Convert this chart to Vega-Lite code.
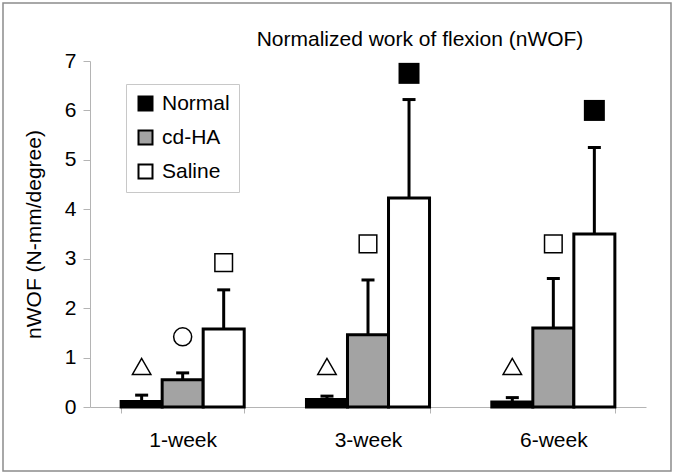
{
  "$schema": "https://vega.github.io/schema/vega-lite/v6.json",
  "width": 556,
  "height": 346,
  "autosize": "none",
  "padding": {"left": 90, "top": 61, "right": 29, "bottom": 69},
  "background": "white",
  "config": {
    "view": {"stroke": null},
    "font": "Liberation Sans",
    "axis": {"labelFont": "Liberation Sans", "titleFont": "Liberation Sans"}
  },
  "title": {
    "text": "Normalized work of flexion (nWOF)",
    "font": "Liberation Sans",
    "fontSize": 21,
    "fontWeight": "normal",
    "color": "black",
    "anchor": "middle",
    "dx": 52,
    "offset": -47
  },
  "datasets": {
    "bars": [
      {"week": "1-week", "group": "Normal", "value": 0.11, "upper": 0.24},
      {"week": "1-week", "group": "cd-HA", "value": 0.55, "upper": 0.69},
      {"week": "1-week", "group": "Saline", "value": 1.58, "upper": 2.37},
      {"week": "3-week", "group": "Normal", "value": 0.15, "upper": 0.22},
      {"week": "3-week", "group": "cd-HA", "value": 1.46, "upper": 2.57},
      {"week": "3-week", "group": "Saline", "value": 4.23, "upper": 6.22},
      {"week": "6-week", "group": "Normal", "value": 0.1, "upper": 0.19},
      {"week": "6-week", "group": "cd-HA", "value": 1.6, "upper": 2.6},
      {"week": "6-week", "group": "Saline", "value": 3.5, "upper": 5.25}
    ],
    "openMarks": [
      {"week": "1-week", "group": "Normal", "shape": "triangle", "value": 0.82},
      {"week": "1-week", "group": "cd-HA", "shape": "circle", "value": 1.42},
      {"week": "1-week", "group": "Saline", "shape": "square", "value": 2.92},
      {"week": "3-week", "group": "Normal", "shape": "triangle", "value": 0.82},
      {"week": "3-week", "group": "cd-HA", "shape": "square", "value": 3.3},
      {"week": "6-week", "group": "Normal", "shape": "triangle", "value": 0.82},
      {"week": "6-week", "group": "cd-HA", "shape": "square", "value": 3.3}
    ],
    "filledMarks": [
      {"week": "3-week", "group": "Saline", "value": 6.75},
      {"week": "6-week", "group": "Saline", "value": 6.0}
    ]
  },
  "encoding": {
    "x": {
      "field": "week",
      "type": "nominal",
      "scale": {"paddingInner": 0.336, "paddingOuter": 0.168},
      "axis": {
        "title": null,
        "labelAngle": 0,
        "tickBand": "extent",
        "tickSize": 6,
        "labelPadding": 16,
        "labelFontSize": 21,
        "labelColor": "black",
        "domainColor": "#b4b4b4",
        "tickColor": "#b4b4b4"
      }
    },
    "xOffset": {
      "field": "group",
      "type": "nominal",
      "sort": ["Normal", "cd-HA", "Saline"],
      "scale": {"domain": ["Normal", "cd-HA", "Saline"], "paddingInner": 0, "paddingOuter": 0}
    }
  },
  "layer": [
    {
      "data": {"name": "bars"},
      "mark": {"type": "bar", "stroke": "black", "strokeWidth": 3},
      "encoding": {
        "y": {
          "field": "value",
          "type": "quantitative",
          "scale": {"domain": [0, 7], "nice": false},
          "axis": {
            "title": "nWOF (N-mm/degree)",
            "values": [0, 1, 2, 3, 4, 5, 6, 7],
            "grid": false,
            "tickSize": 7,
            "labelPadding": 7,
            "labelFontSize": 21,
            "labelColor": "black",
            "titleFontSize": 21,
            "titleFontWeight": "normal",
            "titleColor": "black",
            "titlePadding": 20,
            "domainColor": "#b4b4b4",
            "tickColor": "#b4b4b4"
          }
        },
        "fill": {
          "field": "group",
          "type": "nominal",
          "scale": {"domain": ["Normal", "cd-HA", "Saline"], "range": ["#000000", "#a3a3a3", "#ffffff"]},
          "legend": {
            "title": null,
            "orient": "none",
            "legendX": 36,
            "legendY": 23,
            "symbolType": "square",
            "symbolSize": 196,
            "symbolStrokeColor": "black",
            "symbolStrokeWidth": 2,
            "labelFont": "Liberation Sans",
            "labelFontSize": 21,
            "labelColor": "black",
            "labelOffset": 6,
            "labelLimit": 200,
            "rowPadding": 11,
            "padding": 9,
            "strokeColor": "#c8c8c8"
          }
        }
      }
    },
    {
      "data": {"name": "bars"},
      "mark": {"type": "rule", "color": "black", "strokeWidth": 3},
      "encoding": {
        "y": {"field": "value", "type": "quantitative"},
        "y2": {"field": "upper"}
      }
    },
    {
      "data": {"name": "bars"},
      "mark": {"type": "tick", "color": "black", "thickness": 3, "size": 13, "opacity": 1},
      "encoding": {
        "y": {"field": "upper", "type": "quantitative"}
      }
    },
    {
      "data": {"name": "openMarks"},
      "mark": {"type": "point", "filled": true, "fill": "white", "stroke": "black", "strokeWidth": 1.5, "opacity": 1},
      "encoding": {
        "y": {"field": "value", "type": "quantitative"},
        "shape": {
          "field": "shape",
          "type": "nominal",
          "scale": {"domain": ["triangle", "circle", "square"], "range": ["triangle-up", "circle", "square"]},
          "legend": null
        },
        "size": {
          "field": "shape",
          "type": "nominal",
          "scale": {"domain": ["triangle", "circle", "square"], "range": [340, 310, 400]},
          "legend": null
        }
      }
    },
    {
      "data": {"name": "filledMarks"},
      "mark": {"type": "point", "shape": "square", "filled": true, "fill": "black", "strokeWidth": 1, "size": 441, "opacity": 1},
      "encoding": {
        "y": {"field": "value", "type": "quantitative"},
        "stroke": {
          "field": "value",
          "type": "quantitative",
          "scale": {"range": ["transparent", "transparent"]},
          "legend": {
            "title": null,
            "orient": "none",
            "legendX": -87,
            "legendY": -58,
            "direction": "horizontal",
            "padding": 0,
            "gradientLength": 668,
            "gradientThickness": 468,
            "gradientStrokeColor": "#8c8c8c",
            "gradientStrokeWidth": 1.5,
            "labelOpacity": 0,
            "labelFontSize": 1,
            "tickCount": 1
          }
        }
      }
    }
  ]
}
